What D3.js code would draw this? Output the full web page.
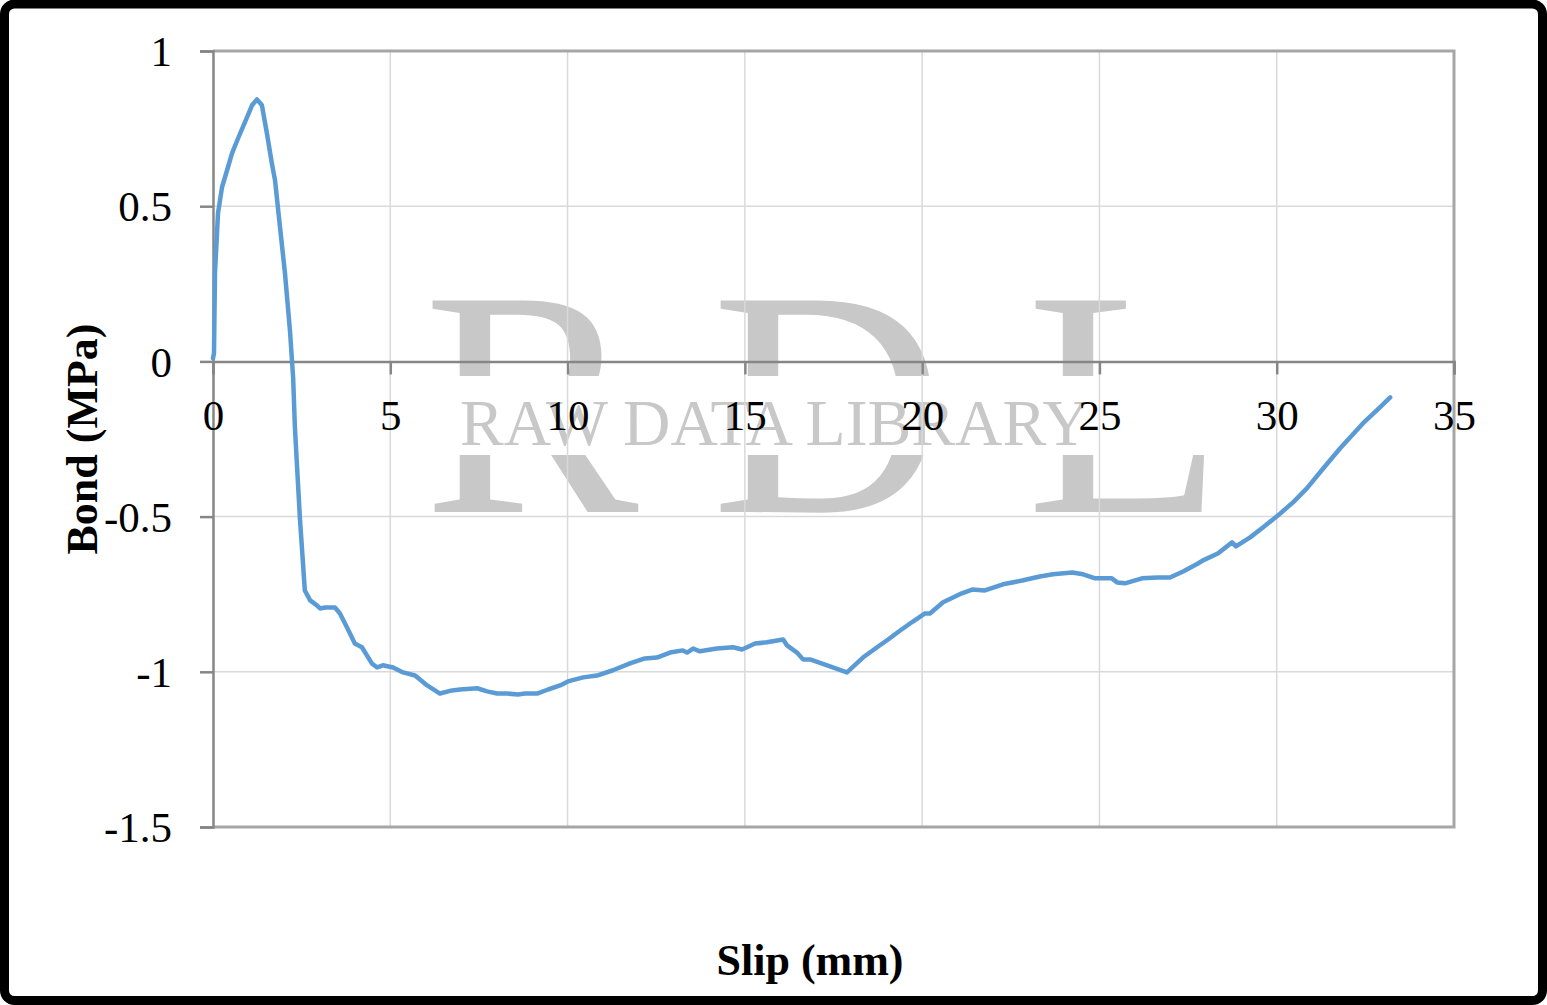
<!DOCTYPE html>
<html>
<head>
<meta charset="utf-8">
<script src="https://cdn.jsdelivr.net/npm/d3@7"></script>
<style>
html,body{margin:0;padding:0;background:#fff;}
svg{display:block;}
</style>
</head>
<body>
<svg id="chart" width="1547" height="1005"></svg>
<script>
// ---- data ----
const slip = [0,0.028,0.056,0.141,0.254,0.395,0.536,0.705,0.959,1.10,1.24,1.38,1.52,1.66,1.75,1.89,2.03,2.17,2.26,2.31,2.45,2.59,2.74,2.93,3.02,3.16,3.44,3.58,3.78,4.00,4.20,4.48,4.63,4.79,5.08,5.36,5.70,6.04,6.40,6.74,6.97,7.45,7.73,8.01,8.29,8.60,8.80,9.14,9.45,9.79,10.01,10.44,10.83,11.28,11.76,12.18,12.52,12.89,13.25,13.37,13.54,13.73,14.21,14.67,14.92,15.29,15.62,16.08,16.19,16.47,16.64,16.84,17.32,17.88,18.33,18.73,19.04,19.38,19.74,20.08,20.22,20.59,21.12,21.41,21.77,22.28,22.82,23.32,23.69,24.23,24.54,24.88,25.35,25.50,25.72,26.20,26.65,26.99,27.36,27.78,27.92,28.34,28.74,28.85,29.25,29.61,30.04,30.46,30.85,31.31,31.79,32.43,32.91,33.20];
const bond = [0.01,0.026,0.284,0.477,0.561,0.615,0.670,0.718,0.786,0.825,0.844,0.825,0.735,0.638,0.583,0.432,0.284,0.100,-0.052,-0.213,-0.503,-0.738,-0.770,-0.786,-0.796,-0.793,-0.793,-0.812,-0.857,-0.909,-0.921,-0.973,-0.986,-0.979,-0.986,-1.002,-1.012,-1.044,-1.070,-1.060,-1.057,-1.053,-1.063,-1.070,-1.070,-1.073,-1.070,-1.070,-1.057,-1.044,-1.031,-1.018,-1.012,-0.995,-0.973,-0.957,-0.954,-0.938,-0.931,-0.938,-0.925,-0.934,-0.925,-0.921,-0.928,-0.909,-0.905,-0.896,-0.915,-0.938,-0.960,-0.960,-0.979,-1.002,-0.954,-0.921,-0.896,-0.867,-0.838,-0.812,-0.812,-0.776,-0.747,-0.735,-0.738,-0.718,-0.706,-0.693,-0.686,-0.680,-0.686,-0.699,-0.699,-0.712,-0.715,-0.699,-0.696,-0.696,-0.677,-0.651,-0.641,-0.619,-0.583,-0.596,-0.567,-0.535,-0.496,-0.454,-0.409,-0.345,-0.280,-0.200,-0.148,-0.116];
const xTicks = [0,5,10,15,20,25,30,35];
const yTicks = [1,0.5,0,-0.5,-1,-1.5];
const xTitle = "Slip (mm)";
const yTitle = "Bond (MPa)";

// ---- layout ----
const svg = d3.select("#chart");
const L = 213, R = 1454, T = 51, B = 827;
const x = d3.scaleLinear().domain([0,35]).range([L,R]);
const y = d3.scaleLinear().domain([-1.5,1]).range([B,T]);
const serif = "'Liberation Serif','Times New Roman',Times,serif";

// background
svg.append("rect").attr("x",0).attr("y",0).attr("width",1547).attr("height",1005).attr("fill","#fff");

// watermark
const wm = svg.append("g").attr("fill","#c8c8c8").attr("font-family",serif);
wm.append("text").attr("x",531).attr("y",512).attr("text-anchor","middle").attr("font-size",323).text("R");
wm.append("text").attr("x",828).attr("y",512).attr("text-anchor","middle").attr("font-size",323).text("D");
wm.append("text").attr("x",1125).attr("y",512).attr("text-anchor","middle").attr("font-size",323).text("L");
svg.append("rect").attr("x",420).attr("y",376).attr("width",810).attr("height",79).attr("fill","#fff");
svg.append("text").attr("fill","#c8c8c8").attr("font-family",serif)
  .attr("x",460).attr("y",445).attr("font-size",66)
  .attr("textLength",630).attr("lengthAdjust","spacingAndGlyphs").text("RAW DATA LIBRARY");

// gridlines
const grid = svg.append("g").attr("stroke","#d9d9d9").attr("stroke-width",1.5);
grid.selectAll(".gx").data(xTicks.filter(d=>d>0 && d<35)).enter().append("line")
  .attr("x1",d=>x(d)).attr("x2",d=>x(d)).attr("y1",T).attr("y2",B);
grid.selectAll(".gy").data(yTicks.filter(d=>d!==0)).enter().append("line")
  .attr("x1",L).attr("x2",R).attr("y1",d=>y(d)).attr("y2",d=>y(d));

// plot border (top/right/bottom)
svg.append("path")
  .attr("d",`M${L},${T}H${R}V${B}H${L}`)
  .attr("fill","none").attr("stroke","#a6a6a6").attr("stroke-width",3);

// y axis
const yAxis = d3.axisLeft(y).tickValues(yTicks).tickSize(13).tickFormat(d3.format("~g"));
const gy = svg.append("g").attr("transform",`translate(${L},0)`).call(yAxis);
gy.select(".domain").attr("stroke","#868686").attr("stroke-width",2.5);
gy.selectAll(".tick line").attr("stroke","#868686").attr("stroke-width",2.5);
gy.selectAll(".tick text").attr("font-family",serif).attr("font-size",43).attr("fill","#000")
  .attr("x",-41).attr("dy","0.34em").text(d=>d3.format("~g")(d).replace("−","-"));

// x axis at y=0
const xAxis = d3.axisBottom(x).tickValues(xTicks).tickSize(13).tickFormat(d3.format("~g"));
const gx = svg.append("g").attr("transform",`translate(0,${y(0)})`).call(xAxis);
gx.select(".domain").attr("stroke","#868686").attr("stroke-width",2.5);
gx.selectAll(".tick line").attr("stroke","#868686").attr("stroke-width",2.5);
gx.selectAll(".tick text").attr("font-family",serif).attr("font-size",43).attr("fill","#000")
  .attr("y",69).attr("dy",0);

// curve
const pts = slip.map((s,i)=>[s,bond[i]]);
const line = d3.line().x(d=>x(d[0])).y(d=>y(d[1])).curve(d3.curveLinear);
svg.append("path").datum(pts).attr("d",line)
  .attr("fill","none").attr("stroke","#5b9bd5").attr("stroke-width",4.5)
  .attr("stroke-linejoin","round").attr("stroke-linecap","round");

// titles
svg.append("text").attr("x",810).attr("y",975).attr("text-anchor","middle")
  .attr("font-family",serif).attr("font-weight","bold").attr("font-size",44).text(xTitle);
svg.append("text").attr("transform","translate(97,439) rotate(-90)").attr("text-anchor","middle")
  .attr("font-family",serif).attr("font-weight","bold").attr("font-size",44).text(yTitle);

// outer frame
svg.append("rect").attr("x",4.5).attr("y",4).attr("width",1538).attr("height",996.5)
  .attr("rx",10).attr("fill","none").attr("stroke","#000").attr("stroke-width",9);
</script>
</body>
</html>
